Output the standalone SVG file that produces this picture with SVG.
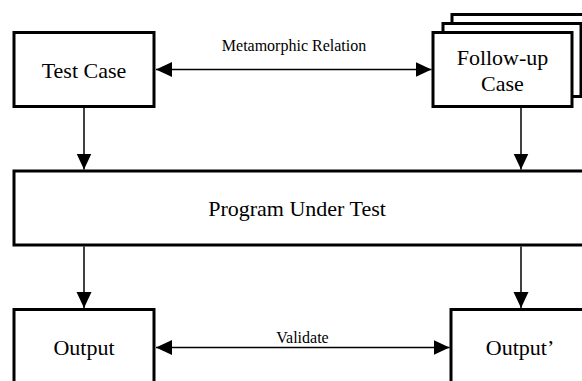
<svg xmlns="http://www.w3.org/2000/svg" width="582" height="381" viewBox="0 0 582 381">
  <defs>
    <style>
      .box { fill: #ffffff; stroke: #000000; stroke-width: 3; }
      .lbl { font-family: "Liberation Serif", "Times New Roman", serif; font-size: 22px; fill: #000000; text-anchor: middle; }
      .elbl { font-family: "Liberation Serif", "Times New Roman", serif; font-size: 16px; fill: #000000; text-anchor: middle; }
      .conn { stroke: #000000; stroke-width: 1.5; fill: none; }
    </style>
    <marker id="arrEnd" markerUnits="userSpaceOnUse" markerWidth="17" markerHeight="16" refX="16" refY="7.5" orient="auto">
      <path d="M0,0 L16,7.5 L0,15 Z" fill="#000000"/>
    </marker>
    <marker id="arrStart" markerUnits="userSpaceOnUse" markerWidth="17" markerHeight="16" refX="0" refY="7.5" orient="auto">
      <path d="M16,0 L0,7.5 L16,15 Z" fill="#000000"/>
    </marker>
  </defs>
  <rect width="582" height="381" fill="#ffffff"/>

  <g id="test-case">
    <rect class="box" x="14" y="32.5" width="140" height="74"/>
    <text class="lbl" x="84" y="78">Test Case</text>
  </g>

  <g id="follow-up-case">
    <rect class="box" x="452" y="14.5" width="140" height="73"/>
    <rect class="box" x="443" y="23.5" width="138" height="73"/>
    <rect class="box" x="433" y="32.5" width="139" height="74"/>
    <text class="lbl" x="502.5" y="65">Follow-up</text>
    <text class="lbl" x="502.5" y="91">Case</text>
  </g>

  <g id="program-under-test">
    <rect class="box" x="14" y="171" width="580" height="74"/>
    <text class="lbl" x="297" y="216">Program Under Test</text>
  </g>

  <g id="output">
    <rect class="box" x="14" y="309.5" width="140" height="80"/>
    <text class="lbl" x="84" y="355">Output</text>
  </g>

  <g id="output-prime">
    <rect class="box" x="451" y="309.5" width="140" height="80"/>
    <text class="lbl" x="520" y="355">Output’</text>
  </g>

  <g id="connectors">
    <line class="conn" x1="156" y1="69.5" x2="431.5" y2="69.5" marker-start="url(#arrStart)" marker-end="url(#arrEnd)"/>
    <text class="elbl" x="294" y="51">Metamorphic Relation</text>
    <line class="conn" x1="84" y1="108" x2="84" y2="169.5" marker-end="url(#arrEnd)"/>
    <line class="conn" x1="521" y1="108" x2="521" y2="169.5" marker-end="url(#arrEnd)"/>
    <line class="conn" x1="84" y1="246.5" x2="84" y2="308" marker-end="url(#arrEnd)"/>
    <line class="conn" x1="521" y1="246.5" x2="521" y2="308" marker-end="url(#arrEnd)"/>
    <line class="conn" x1="156" y1="347.5" x2="449.5" y2="347.5" marker-start="url(#arrStart)" marker-end="url(#arrEnd)"/>
    <text class="elbl" x="302.5" y="343">Validate</text>
  </g>
</svg>
